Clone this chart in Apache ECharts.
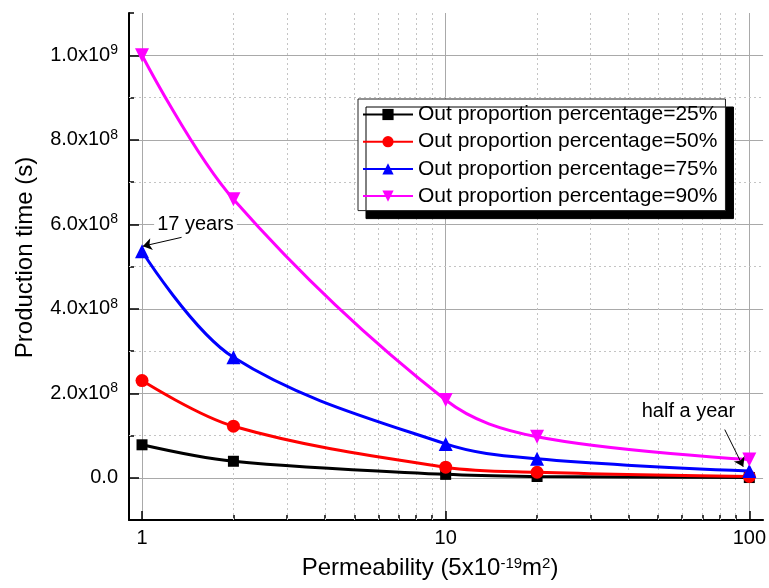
<!DOCTYPE html>
<html>
<head>
<meta charset="utf-8">
<script src="https://cdn.jsdelivr.net/npm/echarts@6/dist/echarts.min.js"></script>
<style>
html,body{margin:0;padding:0;background:#fff;}
#c{width:769px;height:588px;}
</style>
</head>
<body>
<div id="c"></div>
<script>
// ---- data ----
const permeability = [1, 2, 10, 20, 100];
const seriesNames = [
  'Out proportion percentage=25%',
  'Out proportion percentage=50%',
  'Out proportion percentage=75%',
  'Out proportion percentage=90%'
];
const p25 = [7.8e7, 3.9e7, 8e6, 3e6, 5e5];
const p50 = [2.3e8, 1.22e8, 2.5e7, 1.3e7, 3e6];
const p75 = [5.36e8, 2.85e8, 8.0e7, 4.5e7, 1.58e7];
const p90 = [1.0e9, 6.59e8, 1.84e8, 9.7e7, 4.3e7];

const xMajorTicks = [1, 10, 100];
const xMinorTicks = [2, 3, 4, 5, 6, 7, 8, 9, 20, 30, 40, 50, 60, 70, 80, 90];
const xTickLabels = ['1', '10', '100'];

const yMajorTicks = [0, 2e8, 4e8, 6e8, 8e8, 1e9];
const yMinorTicks = [-1e8, 1e8, 3e8, 5e8, 7e8, 9e8, 1.1e9];
const yTickMantissa = ['0.0', '2.0', '4.0', '6.0', '8.0', '1.0'];
const yTickExponent = ['', '8', '8', '8', '8', '9'];

// annotations (data coordinates)
const note17 = {text: '17 years', at: [1.5, 6.0e8], from: [1.35, 5.69e8], to: [1.006, 5.48e8]};
const noteHalf = {text: 'half a year', at: [63, 1.57e8], from: [83, 1.14e8], to: [95.5, 2.6e7]};

// ---- chart ----
const FONT = '"Liberation Sans", Arial, sans-serif';
const X_MIN = 0.906, X_MAX = 111, Y_MIN = -1e8, Y_MAX = 1.1e9;

const colors = ['#000000', '#ff0000', '#0000ff', '#ff00ff'];
const symbols = ['rect', 'circle', 'triangle', 'path://M0,0L2,0L1,1.73Z'];
const sizes = [11, 13, 14, 14];
const values = [p25, p50, p75, p90];

const chart = echarts.init(document.getElementById('c'), null, {renderer: 'canvas'});

const lineSeries = values.map((vals, i) => ({
  name: seriesNames[i],
  type: 'line',
  xAxisIndex: 0,
  yAxisIndex: 0,
  data: permeability.map((x, j) => [x, vals[j]]),
  smooth: 0.35,
  symbol: symbols[i],
  symbolSize: sizes[i],
  showAllSymbol: true,
  lineStyle: {color: colors[i], width: 3},
  itemStyle: {color: colors[i]},
  emphasis: {disabled: true},
  z: 3
}));

const minorGridSeries = {
  name: 'minorGrid',
  type: 'line',
  xAxisIndex: 0,
  yAxisIndex: 0,
  data: [],
  silent: true,
  z: 1,
  markLine: {
    silent: true,
    z: 1,
    symbol: ['none', 'none'],
    label: {show: false},
    lineStyle: {color: '#c4c4c4', width: 1, type: [2, 3]},
    data: xMinorTicks.map(v => ({xAxis: v}))
      .concat(yMinorTicks.filter(v => v > Y_MIN && v < Y_MAX).map(v => ({yAxis: v}))),
    animation: false
  }
};

function annotationSeries(n, id) {
  return {
    name: id,
    type: 'line',
    xAxisIndex: 0,
    yAxisIndex: 0,
    data: [],
    silent: true,
    markLine: {
      silent: true,
      symbol: ['none', 'arrow'],
      symbolSize: 9,
      lineStyle: {color: '#000', width: 1, type: 'solid'},
      label: {show: false},
      data: [[{coord: n.from}, {coord: n.to}]],
      animation: false
    },
    markPoint: {
      silent: true,
      symbol: 'circle',
      symbolSize: 1,
      itemStyle: {color: 'rgba(0,0,0,0)'},
      label: {
        show: true,
        position: 'inside',
        formatter: n.text,
        color: '#000',
        fontSize: 20,
        fontFamily: FONT,
        backgroundColor: '#fff',
        padding: [0, 3, 0, 3]
      },
      data: [{coord: n.at}],
      animation: false
    },
    z: 4
  };
}

const option = {
  animation: false,
  backgroundColor: '#fff',
  grid: {left: 129, right: 4, top: 13, bottom: 68, containLabel: false},
  legend: {
    data: seriesNames,
    orient: 'vertical',
    left: 358,
    top: 99,
    padding: [5, 8, 4, 4],
    itemGap: 6.2,
    itemWidth: 50,
    itemHeight: 14,
    backgroundColor: '#fff',
    borderColor: '#222',
    borderWidth: 1,
    borderRadius: 0,
    shadowColor: '#000',
    shadowBlur: 0,
    shadowOffsetX: 8,
    shadowOffsetY: 8,
    textStyle: {fontSize: 21, fontFamily: FONT, color: '#000', lineHeight: 20},
    selectedMode: false,
    z: 10
  },
  xAxis: [
    {
      type: 'log',
      logBase: 10,
      min: X_MIN,
      max: X_MAX,
      position: 'bottom',
      name: 'Permeability (5x10{s|-19}m{s|2})',
      nameLocation: 'middle',
      nameGap: 36,
      nameTextStyle: {
        fontSize: 24, fontFamily: FONT, color: '#000',
        padding: [0, 32, 0, 0],
        rich: {s: {fontSize: 15, fontFamily: FONT, verticalAlign: 'top', lineHeight: 14, color: '#000'}}
      },
      axisLine: {show: true, onZero: false, lineStyle: {color: '#000', width: 2}},
      axisTick: {show: true, inside: true, length: 9, customValues: xMajorTicks, lineStyle: {color: '#000', width: 1.5}},
      axisLabel: {
        show: true, margin: 8, customValues: xMajorTicks,
        fontSize: 20, fontFamily: FONT, color: '#000',
        formatter: v => {
          const k = xMajorTicks.findIndex(t => Math.abs(t - v) / t < 1e-6);
          return k >= 0 ? xTickLabels[k] : '';
        }
      },
      splitLine: {show: true, lineStyle: {color: '#a9a9a9', width: 1, type: 'solid'}},
      minorTick: {show: false}
    },
    {
      type: 'log',
      logBase: 10,
      min: X_MIN,
      max: X_MAX,
      position: 'bottom',
      axisLine: {show: false, onZero: false},
      axisTick: {show: true, inside: true, length: 5, customValues: xMinorTicks, lineStyle: {color: '#000', width: 1.5}},
      axisLabel: {show: false, customValues: xMinorTicks},
      splitLine: {show: false}
    }
  ],
  yAxis: [
    {
      type: 'value',
      min: Y_MIN,
      max: Y_MAX,
      interval: 1e8,
      position: 'left',
      name: 'Production time (s)',
      nameLocation: 'middle',
      nameGap: 92,
      nameRotate: 90,
      nameTextStyle: {fontSize: 24, fontFamily: FONT, color: '#000', padding: [0, 0, 0, 18]},
      axisLine: {show: true, onZero: false, lineStyle: {color: '#000', width: 2}},
      axisTick: {show: true, inside: true, length: 10, customValues: yMajorTicks, lineStyle: {color: '#000', width: 1.5}},
      axisLabel: {
        show: true, margin: 11, customValues: yMajorTicks,
        fontSize: 20, fontFamily: FONT, color: '#000',
        formatter: v => {
          const k = yMajorTicks.findIndex(t => Math.abs(t - v) < 1);
          if (k < 0) return '';
          if (!yTickExponent[k]) return '{a|' + yTickMantissa[k] + '}';
          return '{a|' + yTickMantissa[k] + 'x10}{s|' + yTickExponent[k] + '}';
        },
        rich: {
          a: {fontSize: 20, fontFamily: FONT, color: '#000', lineHeight: 24},
          s: {fontSize: 14, fontFamily: FONT, color: '#000', verticalAlign: 'top', lineHeight: 14}
        }
      },
      splitLine: {show: true, lineStyle: {color: '#a9a9a9', width: 1, type: 'solid'}}
    },
    {
      type: 'value',
      min: Y_MIN,
      max: Y_MAX,
      interval: 1e8,
      position: 'left',
      axisLine: {show: false, onZero: false},
      axisTick: {show: true, inside: true, length: 5, customValues: yMinorTicks, lineStyle: {color: '#000', width: 1.5}},
      axisLabel: {show: false, customValues: yMinorTicks},
      splitLine: {show: false}
    }
  ],
  series: [minorGridSeries].concat(lineSeries, [annotationSeries(note17, 'a17'), annotationSeries(noteHalf, 'ahalf')])
};

chart.setOption(option);
</script>
</body>
</html>
